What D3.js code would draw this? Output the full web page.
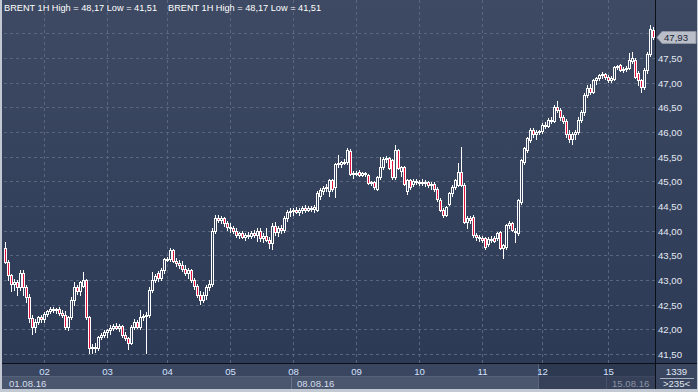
<!DOCTYPE html>
<html><head><meta charset="utf-8">
<script src="https://cdn.jsdelivr.net/npm/d3@7/dist/d3.min.js"></script>
<style>
html,body{margin:0;padding:0;background:#c3c9d3;overflow:hidden;}
svg{display:block;font-family:"Liberation Sans",Arial,sans-serif;}
</style></head><body>
<svg id="c" width="698" height="392"></svg>
<script>
const titleText = "BRENT 1H High = 48,17 Low = 41,51";
const priceTicks = [41.5,42,42.5,43,43.5,44,44.5,45,45.5,46,46.5,47,47.5,48];
const priceLabels = [41.5,42,42.5,43,43.5,44,44.5,45,45.5,46,46.5,47,47.5];
const dayLabels = ["02","03","04","05","08","09","10","11","12","15"];
const weekLabels = ["01.08.16","08.08.16","15.08.16"];
const lastPrice = 47.93;
const infoTop = "1339", infoBottom = ">235<";

// hourly candles per trading day: [open, high, low, close]
const d0801 = [[43.65,43.77,43.35,43.37],[43.37,43.40,43.00,43.10],[43.10,43.12,42.78,42.92],[42.92,43.02,42.80,42.96],[42.96,43.00,42.70,42.85],[42.85,43.20,42.80,43.15],[43.15,43.20,42.70,42.85],[42.85,42.90,42.55,42.65],[42.65,42.72,42.15,42.22],[42.22,42.30,41.90,42.05],[42.05,42.20,41.95,42.15],[42.15,42.28,42.10,42.25],[42.25,42.30,42.15,42.20]];
const d0802 = [[42.20,42.35,42.15,42.32],[42.32,42.40,42.28,42.38],[42.38,42.45,42.33,42.42],[42.42,42.46,42.36,42.40],[42.40,42.44,42.34,42.42],[42.42,42.46,42.30,42.34],[42.34,42.40,42.26,42.30],[42.30,42.38,42.00,42.05],[42.05,42.28,41.98,42.25],[42.25,42.65,42.20,42.60],[42.60,42.95,42.50,42.85],[42.85,42.90,42.72,42.78],[42.78,42.98,42.70,42.95],[42.88,43.17,42.85,43.00],[43.00,43.02,42.20,42.25],[42.25,42.28,41.52,41.62],[41.62,41.70,41.52,41.65],[41.65,41.72,41.55,41.62],[41.62,41.86,41.58,41.84],[41.84,41.92,41.80,41.88],[41.88,41.98,41.85,41.95]];
const d0803 = [[41.95,42.00,41.85,41.98],[41.98,42.08,41.90,42.02],[42.02,42.10,41.98,42.06],[42.06,42.12,42.00,42.02],[42.02,42.10,41.96,42.06],[42.06,42.08,41.85,41.88],[41.88,41.95,41.78,41.82],[41.82,41.85,41.60,41.72],[41.72,42.08,41.70,42.05],[42.05,42.20,42.00,42.15],[42.15,42.18,42.02,42.05],[42.05,42.40,42.00,42.25],[42.25,42.32,42.18,42.28],[42.28,42.35,41.52,42.30],[42.30,42.85,42.25,42.80],[42.80,43.17,42.75,43.00],[43.00,43.12,42.95,43.08],[43.15,43.18,42.98,43.05],[43.05,43.25,43.00,43.20],[43.20,43.45,43.15,43.42]];
const d0804 = [[43.42,43.46,43.38,43.42],[43.42,43.65,43.38,43.60],[43.60,43.62,43.36,43.38],[43.38,43.45,43.28,43.35],[43.35,43.40,43.25,43.30],[43.30,43.38,43.18,43.22],[43.22,43.30,43.10,43.15],[43.15,43.25,43.05,43.20],[43.20,43.22,42.95,43.00],[43.00,43.05,42.82,42.88],[42.88,42.92,42.65,42.70],[42.70,42.78,42.52,42.60],[42.60,42.75,42.55,42.70],[42.70,42.90,42.62,42.85],[42.85,43.00,42.80,42.92],[42.92,44.05,42.88,44.00],[44.00,44.32,43.95,44.25],[44.25,44.32,44.18,44.22],[44.22,44.30,44.15,44.25],[44.25,44.28,44.10,44.15],[44.15,44.20,44.02,44.08]];
const d0805 = [[44.08,44.15,43.98,44.05],[44.05,44.10,43.95,44.00],[44.00,44.05,43.88,43.92],[43.92,43.98,43.85,43.95],[43.95,44.00,43.85,43.88],[43.88,43.95,43.82,43.92],[43.92,43.98,43.85,43.90],[43.90,44.00,43.85,43.95],[43.95,44.02,43.88,43.92],[43.92,44.05,43.80,44.00],[44.00,44.05,43.80,43.85],[43.85,43.95,43.78,43.90],[43.90,44.05,43.80,43.82],[43.82,43.88,43.65,43.75],[43.75,44.15,43.62,44.10],[44.10,44.18,43.92,43.98],[43.98,44.10,43.90,44.05],[44.05,44.12,43.95,44.02],[44.02,44.30,43.98,44.25],[44.25,44.42,44.20,44.38],[44.38,44.45,44.30,44.40]];
const d0808 = [[44.40,44.45,44.32,44.42],[44.42,44.48,44.35,44.38],[44.38,44.45,44.32,44.42],[44.42,44.50,44.36,44.45],[44.45,44.52,44.38,44.42],[44.42,44.50,44.40,44.46],[44.46,44.50,44.40,44.44],[44.44,44.52,44.38,44.48],[44.42,44.80,44.40,44.77],[44.70,44.86,44.65,44.82],[44.80,44.90,44.75,44.86],[44.86,44.95,44.80,44.88],[44.80,45.05,44.70,45.02],[45.02,45.05,44.80,44.85],[44.88,45.38,44.68,45.35],[45.35,45.53,45.30,45.38],[45.35,45.42,45.30,45.40],[45.40,45.45,45.35,45.38],[45.40,45.68,45.36,45.64],[45.62,45.65,45.12,45.14],[45.14,45.20,45.06,45.17]];
const d0809 = [[45.17,45.20,45.12,45.16],[45.18,45.22,45.10,45.13],[45.13,45.18,45.10,45.16],[45.16,45.19,45.10,45.14],[45.13,45.15,44.95,44.97],[44.97,45.00,44.93,44.98],[44.98,45.00,44.85,44.88],[44.85,45.10,44.82,45.08],[45.09,45.50,45.05,45.29],[45.29,45.50,45.25,45.46],[45.46,45.52,45.40,45.48],[45.47,45.50,45.25,45.27],[45.43,45.46,45.05,45.09],[45.09,45.74,45.05,45.64],[45.64,45.66,45.25,45.27],[45.20,45.32,45.10,45.29],[45.29,45.32,44.92,44.94],[44.80,45.05,44.75,45.02],[45.02,45.04,44.85,44.88],[44.95,45.05,44.90,45.00],[45.00,45.05,44.95,44.98]];
const d0810 = [[44.98,45.02,44.92,44.99],[44.99,45.04,44.92,44.96],[44.96,45.02,44.90,44.98],[44.98,45.00,44.88,44.92],[44.92,44.98,44.85,44.95],[44.95,44.98,44.80,44.85],[44.85,44.88,44.60,44.65],[44.62,44.66,44.40,44.42],[44.42,44.45,44.28,44.32],[44.32,44.50,44.30,44.48],[44.55,44.78,44.52,44.76],[44.76,44.92,44.70,44.88],[44.88,45.05,44.85,45.02],[44.93,45.37,44.90,45.19],[45.19,45.70,44.90,44.93],[44.93,44.96,44.15,44.18],[44.18,44.30,44.05,44.25],[44.25,44.30,44.15,44.22],[44.28,44.32,43.88,43.91],[43.91,43.95,43.82,43.88],[43.88,43.92,43.80,43.85]];
const d0811 = [[43.85,43.90,43.78,43.82],[43.85,43.88,43.62,43.67],[43.72,43.88,43.68,43.84],[43.84,43.90,43.78,43.82],[43.86,43.90,43.78,43.80],[43.85,43.98,43.82,43.95],[43.97,44.00,43.62,43.65],[43.65,43.72,43.45,43.70],[43.67,44.14,43.62,44.11],[44.11,44.20,44.05,44.15],[44.16,44.18,44.00,44.01],[44.00,44.05,43.78,43.97],[43.95,44.65,43.92,44.62],[44.58,45.45,44.55,45.43],[45.39,45.70,45.35,45.68],[45.64,45.90,45.60,45.88],[45.84,46.08,45.80,46.04],[46.04,46.08,45.90,45.95],[45.95,46.05,45.85,46.00],[46.00,46.05,45.95,46.02]];
const d0812 = [[46.02,46.18,45.98,46.15],[46.15,46.20,46.08,46.12],[46.12,46.28,46.10,46.24],[46.24,46.30,46.18,46.22],[46.22,46.55,46.20,46.50],[46.50,46.62,46.40,46.45],[46.45,46.48,46.25,46.30],[46.30,46.35,46.18,46.22],[46.22,46.26,45.90,45.95],[45.95,46.05,45.80,45.85],[45.85,46.00,45.75,45.95],[45.95,46.05,45.85,46.00],[46.00,46.30,45.95,46.25],[46.25,46.45,46.20,46.40],[46.40,46.80,46.35,46.75],[46.75,46.95,46.70,46.90],[46.90,46.98,46.78,46.82],[46.82,47.08,46.80,47.05],[47.05,47.12,46.98,47.10],[47.10,47.18,47.05,47.15],[47.15,47.22,47.10,47.18],[47.18,47.20,47.08,47.12]];
const d0815 = [[47.12,47.15,47.02,47.06],[47.06,47.14,47.02,47.10],[47.08,47.34,47.05,47.32],[47.32,47.36,47.28,47.34],[47.36,47.38,47.24,47.26],[47.26,47.32,47.22,47.28],[47.28,47.34,47.24,47.30],[47.30,47.60,47.28,47.46],[47.44,47.62,47.40,47.50],[47.46,47.50,47.10,47.12],[47.20,47.24,46.95,47.05],[47.05,47.08,46.81,46.92],[46.92,47.30,46.88,47.25],[47.25,47.62,47.20,47.58],[47.58,48.17,47.55,48.08],[48.07,48.12,47.88,47.93]];

const days = [d0801,d0802,d0803,d0804,d0805,d0808,d0809,d0810,d0811,d0812,d0815];
const candles = days.flat();
const N = candles.length;
let acc = 0;
const dayStart = days.map(d => { const s = acc; acc += d.length; return s; });
const dayTicks = dayStart.slice(1);
const weekTicks = [dayStart[0], dayStart[5], dayStart[10]];

const W = 698, H = 392;
const plotL = 3, plotR = 655, plotB = 363;
const svg = d3.select("#c");
const defs = svg.append("defs");
const grad = defs.append("linearGradient").attr("id","bg")
  .attr("gradientUnits","userSpaceOnUse").attr("x1",0).attr("y1",0).attr("x2",0).attr("y2",plotB);
grad.append("stop").attr("offset",0).attr("stop-color","#3e4a63");
grad.append("stop").attr("offset",1).attr("stop-color","#2c3a56");

const x = d3.scaleBand().domain(d3.range(N)).range([plotL, plotR]).round(true);
const y = d3.scaleLinear().domain([41.5, 47.5]).range([354, 58]);
const yr = y.copy().interpolate(d3.interpolateRound);
const fmt = v => v.toFixed(2).replace(".", ",");

// frame and backgrounds
svg.append("rect").attr("x",0).attr("y",0).attr("width",W).attr("height",H).attr("fill","#c3c9d3");
svg.append("rect").attr("x",2).attr("y",0).attr("width",W-3).attr("height",plotB).attr("fill","url(#bg)");
svg.append("rect").attr("x",2).attr("y",plotB).attr("width",W-3).attr("height",389-plotB).attr("fill","#3a4660");
// week boxes (second row)
const wk = svg.append("g");
weekTicks.forEach((t,i) => {
  const x0 = i === 0 ? 2 : x(t) - 1;
  const x1 = i < weekTicks.length - 1 ? x(weekTicks[i+1]) - 1 : plotR;
  wk.append("rect").attr("x",x0).attr("y",377).attr("width",x1-x0).attr("height",12).attr("fill","#4a566e");
  if (i > 0) wk.append("line").attr("x1",x0+0.5).attr("x2",x0+0.5).attr("y1",377).attr("y2",389).attr("stroke","#6b768c");
});
wk.append("line").attr("x1",2).attr("x2",plotR).attr("y1",376.5).attr("y2",376.5).attr("stroke","#56627a");

// grid
const gGrid = svg.append("g").attr("transform",`translate(${plotR},0)`)
  .call(d3.axisLeft(yr).tickValues(priceTicks).tickSize(plotR-plotL).tickFormat(""));
gGrid.select(".domain").remove();
gGrid.selectAll("line").attr("stroke","#59667e").attr("stroke-dasharray","3,3");
const vGrid = svg.append("g").attr("transform",`translate(0,${plotB})`)
  .call(d3.axisBottom(x).tickValues(dayTicks).tickSize(-plotB).tickFormat(""));
vGrid.select(".domain").remove();
vGrid.selectAll("line").attr("stroke","#59667e").attr("stroke-dasharray","3,3");

// title
[4, 168].forEach(tx => {
  svg.append("text").attr("x",tx).attr("y",11).attr("fill","#ffffff")
    .attr("font-size","9.2px").text(titleText);
});

// candles
const gc = svg.append("g");
candles.forEach((c,i) => {
  const [o,h,l,cl] = c;
  const cx = x(i) + 1;
  const yh = Math.round(y(h)), yl = Math.round(y(l));
  gc.append("line").attr("x1",cx+0.5).attr("x2",cx+0.5).attr("y1",yh).attr("y2",yl+1)
    .attr("stroke","#ffffff").attr("stroke-width",1);
  const top = Math.round(y(Math.max(o,cl))), bot = Math.round(y(Math.min(o,cl)));
  gc.append("rect").attr("x",cx-0.5).attr("y",top+0.5).attr("width",2).attr("height",Math.max(1,bot-top))
    .attr("fill", cl < o ? "#e2143f" : "url(#bg)").attr("stroke","#ffffff").attr("stroke-width",1);
});

// dark overlay on bottom-right of time axis
svg.append("rect").attr("x",x(dayStart[9])-3).attr("y",plotB).attr("width",plotR-(x(dayStart[9])-3)).attr("height",389-plotB)
  .attr("fill","#1e2840").attr("opacity",0.45);
svg.append("line").attr("x1",x(dayStart[9])-2.5).attr("x2",x(dayStart[9])-2.5).attr("y1",plotB).attr("y2",389).attr("stroke","#59647a");

// axis lines
svg.append("line").attr("x1",2).attr("x2",W-1).attr("y1",plotB+0.5).attr("y2",plotB+0.5).attr("stroke","#0b0f18");
svg.append("line").attr("x1",plotR+0.5).attr("x2",plotR+0.5).attr("y1",0).attr("y2",389).attr("stroke","#0b0f18");

// right price axis (the 48,00 level is covered by the last-price tag)
const ay = svg.append("g").attr("transform",`translate(${plotR},0)`)
  .call(d3.axisRight(yr).tickValues(priceLabels).tickSize(0).tickPadding(3).tickFormat(fmt));
ay.select(".domain").remove();
ay.selectAll("text").attr("fill","#e4e9f2").attr("font-size","9.6px").attr("font-family","Liberation Sans, Arial, sans-serif");

// last price tag
const ty = Math.round(y(lastPrice));
svg.append("path").attr("d",`M${plotR+2},${ty+0.5} L${plotR+7},${ty-5.5} L${W-2},${ty-5.5} L${W-2},${ty+6.5} L${plotR+7},${ty+6.5} Z`)
  .attr("fill","#b9bec8").attr("stroke","#8d94a2");
svg.append("text").attr("x",plotR+9).attr("y",ty+4).attr("fill","#1b2434").attr("font-size","9.6px").text(fmt(lastPrice));

// bottom time axis
const ax = svg.append("g").attr("transform",`translate(0,${plotB})`)
  .call(d3.axisBottom(x).tickValues(dayTicks).tickSize(0).tickPadding(5).tickFormat((d,i) => dayLabels[i]));
ax.select(".domain").remove();
ax.selectAll("text").attr("fill","#d3e2ff").attr("font-size","9.6px").attr("font-family","Liberation Sans, Arial, sans-serif");

svg.append("g").selectAll("text").data(weekTicks).join("text")
  .attr("x", d => x(d) + 5).attr("y",386.5)
  .attr("fill",(d,i) => i === 2 ? "#8a93a5" : "#d6deec").attr("font-size","9.6px")
  .text((d,i) => weekLabels[i]);

// info panel
const ix = (plotR + W) / 2;
svg.append("text").attr("x",ix).attr("y",375).attr("text-anchor","middle").attr("fill","#e0e6f0").attr("font-size","9.6px").text(infoTop);
svg.append("line").attr("x1",plotR+5).attr("x2",W-4).attr("y1",378.5).attr("y2",378.5).attr("stroke","#aab2c0");
svg.append("text").attr("x",ix).attr("y",387).attr("text-anchor","middle").attr("fill","#e0e6f0").attr("font-size","9.6px").text(infoBottom);
</script>
</body></html>
